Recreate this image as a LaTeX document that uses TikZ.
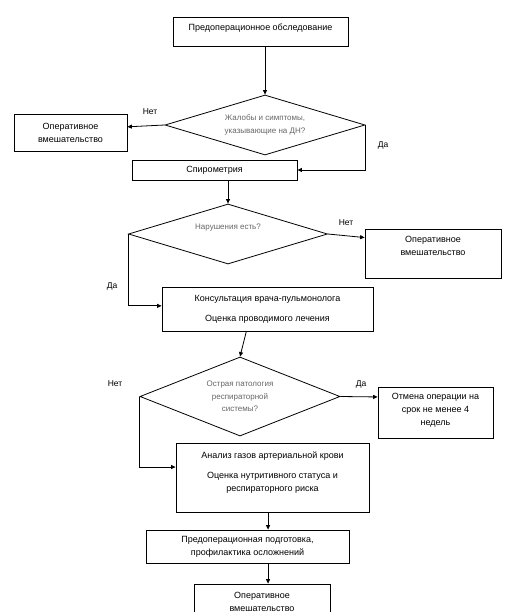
\documentclass[tikz,border=0pt]{standalone}
\usepackage{fontspec}
\setmainfont{Liberation Sans}
\usetikzlibrary{shapes.geometric,arrows.meta,calc}
\begin{document}
\begin{tikzpicture}[x=1pt,y=-1pt,
  box/.style={draw, rectangle, inner sep=0pt, align=center, font=\fontsize{9}{13}\selectfont},
  dia/.style={draw, diamond, inner sep=0pt, align=center, text=black!60, font=\fontsize{8}{12.5}\selectfont},
  lbl/.style={font=\fontsize{8.5}{10}\selectfont},
  arr/.style={-{Triangle[length=4.5pt,width=4pt]}},
  line width=0.8pt]
\useasboundingbox (0,0) rectangle (504,612);
\clip (0,0) rectangle (504,612);

\node[box, minimum width=175pt, minimum height=29pt, text depth=9pt] (b1) at (260.5,31.5) {Предоперационное обследование};
\node[dia, aspect=3.33, minimum width=200pt, minimum height=60pt] (d1) at (265,125) {Жалобы и симптомы,\\указывающие на ДН?};
\node[box, minimum width=113pt, minimum height=37pt] (b2) at (70.5,132.5) {Оперативное\\вмешательство};
\node[box, minimum width=165pt, minimum height=20pt] (b3) at (214.5,170) {Спирометрия};
\node[dia, aspect=3.33, minimum width=199pt, minimum height=60pt, text depth=15pt] (d2) at (228,234) {Нарушения есть?};
\node[box, minimum width=136pt, minimum height=49pt, text depth=16pt] (b4) at (433,253.5) {Оперативное\\вмешательство};
\node[box, minimum width=211pt, minimum height=44pt] (b5) at (267.5,309) {Консультация врача-пульмонолога\\[7pt]Оценка проводимого лечения};
\node[dia, aspect=2.5, minimum width=200pt, minimum height=79pt] (d3) at (240,396.5) {Острая патология\\респираторной\\системы?};
\node[box, minimum width=115pt, minimum height=51pt, text depth=7pt] (b7) at (435.5,412.5) {Отмена операции на\\срок не менее 4\\недель};
\node[box, minimum width=193pt, minimum height=69pt, text depth=11pt] (b6) at (272.5,477.5) {Анализ газов артериальной крови\\[7pt]Оценка нутритивного статуса и\\респираторного риска};
\node[box, minimum width=203pt, minimum height=33pt] (b8) at (247.5,546.5) {Предоперационная подготовка,\\профилактика осложнений};
\node[box, minimum width=136pt, minimum height=36pt] (b9) at (262,602) {Оперативное\\вмешательство};

\node[lbl] (n1) at (150,112) {Нет};
\node[lbl] (y1) at (383,145) {Да};
\node[lbl] (n2) at (346,223) {Нет};
\node[lbl] (y2) at (112,286) {Да};
\node[lbl] (n3) at (115,384) {Нет};
\node[lbl] (y3) at (361,384) {Да};

\coordinate (c2) at ($(b2.north east)!0.35!(b2.south east)$);
\coordinate (c4) at ($(b4.north west)!0.18!(b4.south west)$);
\coordinate (c5) at ($(b5.north west)!0.43!(b5.south west)$);
\coordinate (c5s) at ($(b5.south west)!0.4!(b5.south east)$);
\coordinate (c6w) at ($(b6.north west)!0.35!(b6.south west)$);
\coordinate (c7) at ($(b7.north west)!0.2!(b7.south west)$);
\coordinate (c6s) at ($(b6.south west)!0.477!(b6.south east)$);
\coordinate (c8s) at (c6s |- b8.south);

\draw[arr] (b1.south -| d1.north) -- (d1.north);
\draw[arr] (d1.west) -- (c2);
\draw[arr] (d1.east) |- (b3.east);
\draw[arr] (b3.south -| d2.north) -- (d2.north);
\draw[arr] (d2.east) -- (c4);
\draw[arr] (d2.west) |- (c5);
\draw[arr] (c5s) -- (d3.north);
\draw[arr] (d3.west) |- (c6w);
\draw[arr] (d3.east) -- (c7);
\draw[arr] (c6s) -- (c6s |- b8.north);
\draw[arr] (c8s) -- (c8s |- b9.north);
\end{tikzpicture}
\end{document}
